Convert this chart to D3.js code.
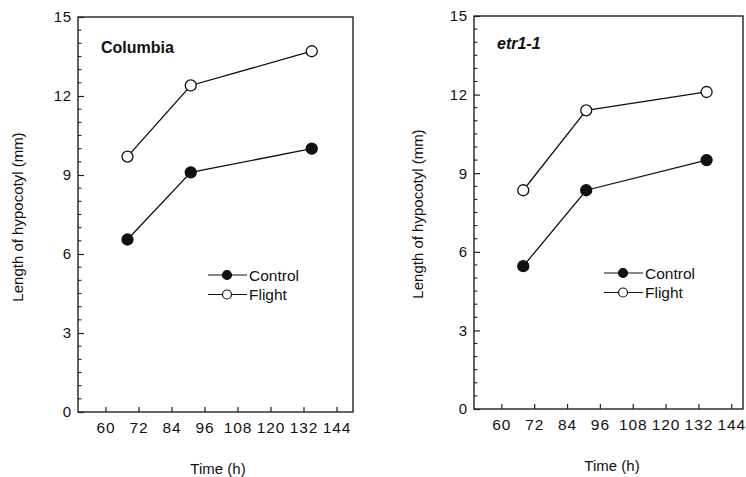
<!DOCTYPE html>
<html>
<head>
<meta charset="utf-8">
<script src="https://cdn.jsdelivr.net/npm/d3@7"></script>
<style>
  body { margin: 0; background: #fff; }
  svg { display: block; font-family: "Liberation Sans", Arial, Helvetica, sans-serif; }
</style>
</head>
<body>
<svg id="chart" width="746" height="477"></svg>
<script>
// data
var times = [68, 91, 135];
var colControl = [6.55, 9.1, 10.0];
var colFlight = [9.7, 12.4, 13.7];
var etrControl = [5.45, 8.35, 9.5];
var etrFlight = [8.35, 11.4, 12.1];
var xTicks = [60, 72, 84, 96, 108, 120, 132, 144];
var yTicks = [0, 3, 6, 9, 12, 15];
var seriesNames = ["Control", "Flight"];

var svg = d3.select("#chart");

function drawPanel(p) {
  var x = d3.scaleLinear().domain(p.xDomain).range([p.left, p.right]);
  var y = d3.scaleLinear().domain([0, 15]).range([p.bottom, p.top]);
  var g = svg.append("g");

  // frame
  g.append("rect")
    .attr("x", p.left).attr("y", p.top)
    .attr("width", p.right - p.left).attr("height", p.bottom - p.top)
    .attr("fill", "none").attr("stroke", "#111").attr("stroke-width", 1.3);

  // minor y ticks (inside)
  var minor = d3.range(0, 15.01, 0.5).filter(function(v) { return v % 3 !== 0; });
  g.selectAll(".ymin").data(minor).enter().append("line")
    .attr("x1", p.left).attr("x2", p.left + 3.5)
    .attr("y1", function(d) { return y(d); }).attr("y2", function(d) { return y(d); })
    .attr("stroke", "#222").attr("stroke-width", 1.1);

  // y axis, ticks inward, labels outside
  var yAxis = g.append("g").attr("transform", "translate(" + p.left + ",0)")
    .call(d3.axisRight(y).tickValues(yTicks).tickSize(6).tickFormat(d3.format("d")));
  yAxis.select(".domain").remove();
  yAxis.attr("font-size", null).attr("font-family", null);
  yAxis.selectAll(".tick line").attr("stroke", "#222").attr("stroke-width", 1.2);
  yAxis.selectAll(".tick text")
    .attr("x", -6).attr("text-anchor", "end")
    .style("font-size", "15px").attr("fill", "#111")
    .attr("letter-spacing", 0.8);

  // x axis, ticks upward
  var xAxis = g.append("g").attr("transform", "translate(0," + p.bottom + ")")
    .call(d3.axisTop(x).tickValues(xTicks).tickSize(5));
  xAxis.select(".domain").remove();
  xAxis.attr("font-size", null).attr("font-family", null);
  xAxis.selectAll(".tick line").attr("stroke", "#222").attr("stroke-width", 1.2);
  xAxis.selectAll(".tick text")
    .attr("y", 21).attr("dy", 0)
    .style("font-size", "15.5px").attr("fill", "#111")
    .attr("letter-spacing", 0.9);

  // axis titles
  g.append("text")
    .attr("x", p.titleX).attr("y", p.bottom + 62)
    .attr("text-anchor", "middle").style("font-size", "15px").attr("fill", "#111")
    .text("Time (h)");
  g.append("text")
    .attr("transform", "translate(" + p.ytx + "," + p.yty + ") rotate(-90)")
    .attr("text-anchor", "middle").attr("dy", "0.35em").style("font-size", "15px").attr("fill", "#111")
    .text("Length of hypocotyl (mm)");

  // panel label
  g.append("text")
    .attr("x", p.left + p.labelDx).attr("y", p.top + p.labelDy)
    .style("font-size", "16px").attr("font-weight", "bold")
    .attr("font-style", p.italic ? "italic" : "normal").attr("fill", "#111")
    .text(p.label);

  var line = d3.line()
    .x(function(d, i) { return x(times[i]); })
    .y(function(d) { return y(d); });

  [p.control, p.flight].forEach(function(vals, k) {
    g.append("path").datum(vals)
      .attr("d", line).attr("fill", "none")
      .attr("stroke", "#111").attr("stroke-width", 1.3);
    g.selectAll(".pt" + k).data(vals).enter().append("circle")
      .attr("cx", function(d, i) { return x(times[i]); })
      .attr("cy", function(d) { return y(d); })
      .attr("r", 5.5)
      .attr("fill", k === 0 ? "#111" : "#fff")
      .attr("stroke", "#111").attr("stroke-width", 1.3);
  });

  // legend
  seriesNames.forEach(function(name, k) {
    var ly = p.legY + k * 19.5;
    g.append("line")
      .attr("x1", p.legX).attr("x2", p.legX + 39)
      .attr("y1", ly).attr("y2", ly)
      .attr("stroke", "#111").attr("stroke-width", 1.2);
    g.append("circle")
      .attr("cx", p.legX + 19).attr("cy", ly).attr("r", 4.5)
      .attr("fill", k === 0 ? "#111" : "#fff")
      .attr("stroke", "#111").attr("stroke-width", 1.2);
    g.append("text")
      .attr("x", p.legX + 41).attr("y", ly).attr("dy", "0.36em")
      .style("font-size", "15.5px").attr("fill", "#111")
      .text(name);
  });
}

drawPanel({
  left: 78, right: 353, top: 17, bottom: 412, xDomain: [50, 150],
  ytx: 18, yty: 217, titleX: 218, label: "Columbia", italic: false, labelDx: 23, labelDy: 36,
  control: colControl, flight: colFlight, legX: 208, legY: 275
});

drawPanel({
  left: 474, right: 743, top: 16, bottom: 409, xDomain: [50, 148.3],
  ytx: 418, yty: 214, titleX: 612, label: "etr1-1", italic: true, labelDx: 23, labelDy: 33,
  control: etrControl, flight: etrFlight, legX: 604, legY: 273
});
</script>
</body>
</html>
